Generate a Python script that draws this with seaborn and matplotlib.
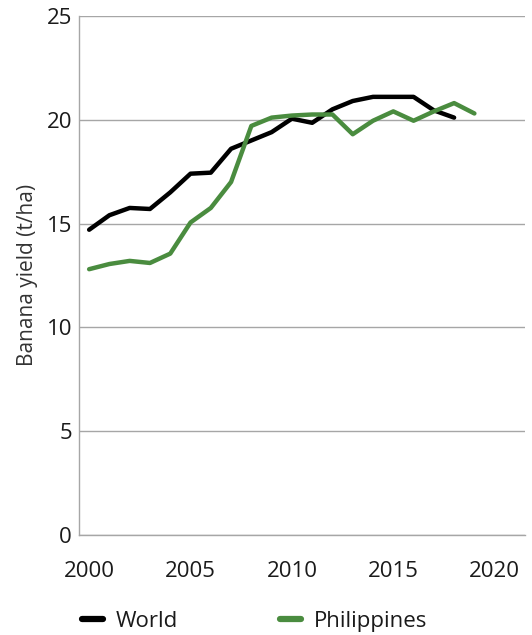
import numpy as np
import pandas as pd
import matplotlib
matplotlib.use('Agg')
import matplotlib.pyplot as plt
import seaborn as sns

YEARS_WORLD = list(range(2000, 2019))
WORLD = [14.7, 15.4, 15.75, 15.7, 16.5, 17.4, 17.45, 18.6, 19.0, 19.4,
         20.05, 19.85, 20.5, 20.9, 21.1, 21.1, 21.1, 20.45, 20.1]
YEARS_PHL = list(range(2000, 2020))
PHILIPPINES = [12.8, 13.05, 13.2, 13.1, 13.55, 15.05, 15.75, 17.0, 19.7, 20.1,
               20.2, 20.25, 20.25, 19.3, 19.95, 20.4, 19.95, 20.4, 20.8, 20.3]
X_TICKS = [2000, 2005, 2010, 2015, 2020]
Y_TICKS = [0, 5, 10, 15, 20, 25]

COLORS = {'World': '#000000', 'Philippines': '#4a8c3f'}

df = pd.concat([
    pd.DataFrame({'Year': YEARS_WORLD, 'Yield': WORLD, 'Region': 'World'}),
    pd.DataFrame({'Year': YEARS_PHL, 'Yield': PHILIPPINES, 'Region': 'Philippines'}),
])

sns.set_theme(style='white')
plt.rcParams['font.family'] = ['Open Sans', 'DejaVu Sans']

fig = plt.figure(figsize=(5.32, 6.35), dpi=100)
ax = fig.add_axes([0.1485, 0.1575, 0.8385, 0.8175])

sns.lineplot(data=df, x='Year', y='Yield', hue='Region', palette=COLORS,
             linewidth=3.2, ax=ax, legend=False)

ax.set_xlim(1999.5, 2021.5)
ax.set_ylim(0, 25)
ax.set_xticks(X_TICKS)
ax.set_yticks(Y_TICKS)
ax.tick_params(axis='both', length=0, labelsize=16, colors='#1a1a1a')
ax.tick_params(axis='x', pad=19)
ax.tick_params(axis='y', pad=5)
ax.yaxis.grid(True, color='#a6a6a6', linewidth=1)
ax.set_axisbelow(True)
for side in ['top', 'right']:
    ax.spines[side].set_visible(False)
for side in ['left', 'bottom']:
    ax.spines[side].set_color('#a6a6a6')
    ax.spines[side].set_linewidth(1)
ax.set_xlabel('')
ax.set_ylabel('Banana yield (t/ha)', fontsize=15, color='#333333', labelpad=6)

handles = [plt.Line2D([], [], color=COLORS[k], linewidth=4.5, solid_capstyle='round')
           for k in COLORS]
fig.legend(handles, list(COLORS), loc='center left', bbox_to_anchor=(0.138, 0.021),
           ncol=2, frameon=False, fontsize=16, handlelength=0.95, handletextpad=0.55,
           columnspacing=4.6, labelcolor='#1a1a1a', borderaxespad=0)

fig.savefig('out.png', dpi=100)
